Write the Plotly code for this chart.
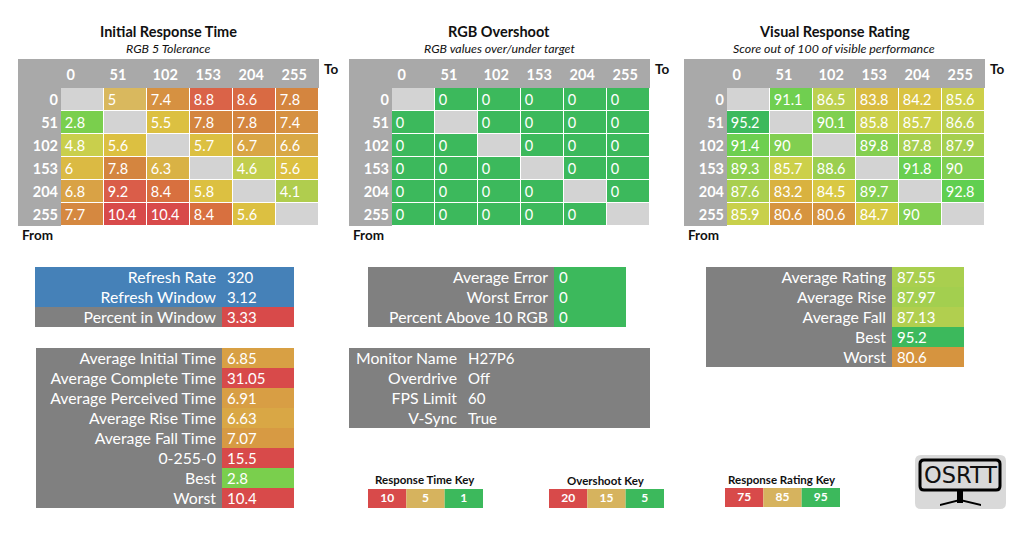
import plotly.graph_objects as go

W = 1024
H = 552

FROM_TO = [0, 51, 102, 153, 204, 255]

INITIAL_TIME = [
    [None, 5, 7.4, 8.8, 8.6, 7.8],
    [2.8, None, 5.5, 7.8, 7.8, 7.4],
    [4.8, 5.6, None, 5.7, 6.7, 6.6],
    [6, 7.8, 6.3, None, 4.6, 5.6],
    [6.8, 9.2, 8.4, 5.8, None, 4.1],
    [7.7, 10.4, 10.4, 8.4, 5.6, None],
]
OVERSHOOT = [
    [None, 0, 0, 0, 0, 0],
    [0, None, 0, 0, 0, 0],
    [0, 0, None, 0, 0, 0],
    [0, 0, 0, None, 0, 0],
    [0, 0, 0, 0, None, 0],
    [0, 0, 0, 0, 0, None],
]
VISUAL_RATING = [
    [None, 91.1, 86.5, 83.8, 84.2, 85.6],
    [95.2, None, 90.1, 85.8, 85.7, 86.6],
    [91.4, 90, None, 89.8, 87.8, 87.9],
    [89.3, 85.7, 88.6, None, 91.8, 90],
    [87.6, 83.2, 84.5, 89.7, None, 92.8],
    [85.9, 80.6, 80.6, 84.7, 90, None],
]

REFRESH_LABELS = ["Refresh Rate", "Refresh Window", "Percent in Window"]
REFRESH_VALUES = [320, 3.12, 3.33]
TIME_LABELS = ["Average Initial Time", "Average Complete Time", "Average Perceived Time",
               "Average Rise Time", "Average Fall Time", "0-255-0", "Best", "Worst"]
TIME_VALUES = [6.85, 31.05, 6.91, 6.63, 7.07, 15.5, 2.8, 10.4]
ERROR_LABELS = ["Average Error", "Worst Error", "Percent Above 10 RGB"]
ERROR_VALUES = [0, 0, 0]
MONITOR_LABELS = ["Monitor Name", "Overdrive", "FPS Limit", "V-Sync"]
MONITOR_VALUES = ["H27P6", "Off", "60", "True"]
RATING_LABELS = ["Average Rating", "Average Rise", "Average Fall", "Best", "Worst"]
RATING_VALUES = [87.55, 87.97, 87.13, 95.2, 80.6]
TIME_KEY = [10, 5, 1]
OVERSHOOT_KEY = [20, 15, 5]
RATING_KEY = [75, 85, 95]

RED = "#d84a4a"
TAN = "#d6b35e"
GREEN = "#3cb95c"
BLUE = "#4581b8"
GRAY = "#808080"
HEAD_GRAY = "#a9a9a9"
DIAG_GRAY = "#d3d3d3"
FONT = "Lato"

TIME_SCALE = [(1, GREEN), (2.8, "#7acf4d"), (4.1, "#b0cd4e"), (4.8, "#c9cf4c"), (5, "#d9b85e"),
              (5.2, "#dcc041"), (5.8, "#dcc041"), (6.3, "#d9b245"), (6.8, "#d9a245"),
              (7.8, "#d4853f"), (8.4, "#d8703f"), (8.8, "#da6348"), (10.4, RED)]
RATING_SCALE = [(75, RED), (80.6, "#d6943f"), (83.2, "#d9b23f"), (84.5, "#d9c843"),
                (85.7, "#ccd04a"), (86.5, "#bcd04f"), (87.6, "#a9cf4f"), (88.6, "#9bcf50"),
                (89.7, "#85cf50"), (91.1, "#70cf50"), (92.8, "#60cf50"), (95.2, GREEN)]
OVERSHOOT_SCALE = [(0, GREEN), (5, GREEN), (15, TAN), (20, RED)]


def px_x(x):
    return x / W


def px_y(y):
    return 1 - y / H


def lookup(scale, v):
    # same colour ramp as the heatmaps, for the value cells
    if v <= scale[0][0]:
        return scale[0][1]
    for (v0, c0), (v1, c1) in zip(scale, scale[1:]):
        if v <= v1:
            t = (v - v0) / (v1 - v0)
            a = [int(c0[i:i + 2], 16) for i in (1, 3, 5)]
            b = [int(c1[i:i + 2], 16) for i in (1, 3, 5)]
            return "rgb(%d,%d,%d)" % tuple(p + (q - p) * t for p, q in zip(a, b))
    return scale[-1][1]


def normalise(scale):
    lo, hi = scale[0][0], scale[-1][0]
    return [[(v - lo) / (hi - lo), c] for v, c in scale]


fig = go.Figure()
annotations = []
shapes = []
axis_count = 0


def new_axes(x0, y0, x1, y1, xrange, yrange):
    global axis_count
    axis_count += 1
    suffix = "" if axis_count == 1 else str(axis_count)
    axis = dict(visible=False, showgrid=False, zeroline=False)
    fig.update_layout({
        "xaxis" + suffix: dict(axis, domain=[px_x(x0), px_x(x1)], range=xrange, anchor="y" + suffix),
        "yaxis" + suffix: dict(axis, domain=[px_y(y1), px_y(y0)], range=yrange, anchor="x" + suffix),
    })
    return "x" + suffix, "y" + suffix


def add_note(text, x, y, size, bold=False, italic=False, anchor="center"):
    if bold:
        text = "<b>%s</b>" % text
    if italic:
        text = "<i>%s</i>" % text
    annotations.append(dict(text=text, x=px_x(x), y=px_y(y), xref="paper", yref="paper", showarrow=False,
                            xanchor=anchor, yanchor="middle", font=dict(family=FONT, size=size, color="#111111")))


def add_rect(x0, y0, x1, y1, color):
    shapes.append(dict(type="rect", xref="paper", yref="paper", layer="below", line_width=0, fillcolor=color,
                       x0=px_x(x0), x1=px_x(x1), y0=px_y(y1), y1=px_y(y0)))


def add_text(xa, ya, x, y, text, position, size):
    fig.add_trace(go.Scatter(x=x, y=y, text=text, mode="text", textposition=position,
                             textfont=dict(family=FONT, size=size, color="white"), hoverinfo="skip",
                             xaxis=xa, yaxis=ya))


def add_grid(left, values, scale, title, subtitle):
    top, bottom = 59, 226
    right = left + 301
    idx = list(range(6))
    xa, ya = new_axes(left, top, right, bottom, [-1.5, 5.5], [5.5, -0.5 - 29 / 23])
    # grey header row and column behind the cells
    add_rect(left, top, right, top + 29, HEAD_GRAY)
    add_rect(left, top, left + 43, bottom, HEAD_GRAY)
    fig.add_trace(go.Heatmap(x=idx, y=idx, z=values, colorscale=normalise(scale),
                             zmin=scale[0][0], zmax=scale[-1][0], showscale=False,
                             xgap=1, ygap=1, hoverinfo="skip", xaxis=xa, yaxis=ya))
    diag = [[1 if v is None else None for v in row] for row in values]
    fig.add_trace(go.Heatmap(x=idx, y=idx, z=diag, colorscale=[[0, DIAG_GRAY], [1, DIAG_GRAY]],
                             showscale=False, xgap=1, ygap=1, hoverinfo="skip", xaxis=xa, yaxis=ya))
    # cell values
    cx, cy, ct = [], [], []
    for r, row in enumerate(values):
        for c, v in enumerate(row):
            if v is not None:
                cx.append(c - 0.41)
                cy.append(r + 0.08)
                ct.append(str(v))
    add_text(xa, ya, cx, cy, ct, "middle right", 14.5)
    # header row and column
    bold = ["<b>%d</b>" % v for v in FROM_TO]
    add_text(xa, ya, [i - 0.37 for i in idx], [-0.99] * 6, bold, "middle right", 14.5)
    add_text(xa, ya, [-0.57] * 6, [i + 0.08 for i in idx], bold, "middle left", 14.5)
    add_note(title, left + 150, 31.5, 14.5, bold=True)
    add_note(subtitle, left + 150, 48.5, 12.4, italic=True)
    add_note("To", right + 3, 69, 13.5, bold=True, anchor="left")
    add_note("From", left + 2, 235, 13.5, bold=True, anchor="left")


def add_stats(x0, y0, x1, y1, split, labels, values, label_fill, value_fill):
    # two stacked bar columns per row: grey label part and coloured value part
    rows = list(range(len(labels)))
    n = len(labels)
    xa, ya = new_axes(x0, y0, x1, y1, [0, x1 - x0], [n - 0.5, -0.5])
    fig.add_trace(go.Bar(y=rows, x=[split] * n, base=[0] * n, width=1, orientation="h",
                         marker=dict(color=label_fill, line_width=0), hoverinfo="skip", xaxis=xa, yaxis=ya))
    fig.add_trace(go.Bar(y=rows, x=[x1 - x0 - split] * n, base=[split] * n, width=1, orientation="h",
                         marker=dict(color=value_fill, line_width=0), hoverinfo="skip", xaxis=xa, yaxis=ya))
    text_y = [r + 0.12 for r in rows]
    add_text(xa, ya, [split - 6] * n, text_y, labels, "middle left", 15.8)
    add_text(xa, ya, [split + 5] * n, text_y, [str(v) for v in values], "middle right", 15)


def add_key(x0, y0, x1, y1, values, title, title_x, title_y):
    cols = list(range(len(values)))
    xa, ya = new_axes(x0, y0, x1, y1, [-0.5, 2.5], [0, 1])
    fig.add_trace(go.Bar(x=cols, y=[1] * 3, width=1, marker=dict(color=[RED, TAN, GREEN], line_width=0),
                         hoverinfo="skip", xaxis=xa, yaxis=ya))
    add_text(xa, ya, cols, [0.45] * 3, ["<b>%d</b>" % v for v in values], "middle center", 12)
    add_note(title, title_x, title_y, 11.5, bold=True)


add_grid(18, INITIAL_TIME, TIME_SCALE, "Initial Response Time", "RGB 5 Tolerance")
add_grid(349, OVERSHOOT, OVERSHOOT_SCALE, "RGB Overshoot", "RGB values over/under target")
add_grid(684, VISUAL_RATING, RATING_SCALE, "Visual Response Rating", "Score out of 100 of visible performance")

add_stats(35, 267, 294, 327, 187, REFRESH_LABELS, REFRESH_VALUES, [BLUE, BLUE, GRAY], [BLUE, BLUE, RED])
add_stats(36, 348, 294, 508, 186, TIME_LABELS, TIME_VALUES, GRAY, [lookup(TIME_SCALE, v) for v in TIME_VALUES])
add_stats(368, 267, 626, 327, 186, ERROR_LABELS, ERROR_VALUES, GRAY, [lookup(OVERSHOOT_SCALE, v) for v in ERROR_VALUES])
add_stats(349, 348, 650, 428, 114, MONITOR_LABELS, MONITOR_VALUES, GRAY, GRAY)
add_stats(706, 267, 964, 367, 186, RATING_LABELS, RATING_VALUES, GRAY, [lookup(RATING_SCALE, v) for v in RATING_VALUES])

add_key(368, 489, 483, 508, TIME_KEY, "Response Time Key", 425, 479)
add_key(549, 489, 664, 508, OVERSHOOT_KEY, "Overshoot Key", 606, 480)
add_key(725, 488, 840, 507, RATING_KEY, "Response Rating Key", 782, 479)


# OSRTT logo drawn as shapes
def rounded(x0, y0, x1, y1, r):
    x0, x1 = px_x(x0), px_x(x1)
    y0, y1 = px_y(y0), px_y(y1)
    rx, ry = r / W, r / H
    return (f"M {x0 + rx} {y0} L {x1 - rx} {y0} Q {x1} {y0} {x1} {y0 - ry} L {x1} {y1 + ry} "
            f"Q {x1} {y1} {x1 - rx} {y1} L {x0 + rx} {y1} Q {x0} {y1} {x0} {y1 + ry} "
            f"L {x0} {y0 - ry} Q {x0} {y0} {x0 + rx} {y0} Z")


shapes += [
    dict(type="path", path=rounded(915, 455, 1006, 509, 6), fillcolor="#d9d9d9", line_width=0, xref="paper", yref="paper"),
    dict(type="path", path=rounded(920, 460, 1000, 490, 4), fillcolor="rgba(0,0,0,0)", line=dict(color="black", width=3), xref="paper", yref="paper"),
    dict(type="rect", x0=px_x(957), x1=px_x(963), y0=px_y(503), y1=px_y(491), fillcolor="black", line_width=0, xref="paper", yref="paper"),
    dict(type="path", path=f"M {px_x(940)} {px_y(506)} L {px_x(960)} {px_y(501)} L {px_x(981)} {px_y(506)} L {px_x(981)} {px_y(504)} L {px_x(960)} {px_y(499)} L {px_x(940)} {px_y(504)} Z",
         fillcolor="black", line_width=0, xref="paper", yref="paper"),
]
annotations.append(dict(text="OSRTT", x=px_x(960.5), y=px_y(475), xref="paper", yref="paper", showarrow=False,
                        xanchor="center", yanchor="middle", font=dict(family="DejaVu Sans", size=22.5, color="#111111")))

fig.update_layout(
    width=W,
    height=H,
    margin=dict(l=0, r=0, t=0, b=0),
    paper_bgcolor="white",
    plot_bgcolor="white",
    showlegend=False,
    barmode="overlay",
    annotations=annotations,
    shapes=shapes,
)

fig.write_html("out.html", config=dict(displayModeBar=False), post_script="document.body.style.margin='0';")
